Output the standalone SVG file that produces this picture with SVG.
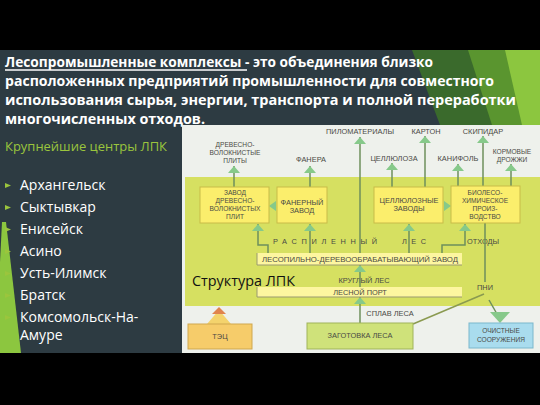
<svg xmlns="http://www.w3.org/2000/svg" width="540" height="405" viewBox="0 0 540 405">
<style>
.t{font-family:"Open Sans","DejaVu Sans",sans-serif;font-weight:bold;font-size:13.9px;fill:#fff}
.city{font-family:"Open Sans","DejaVu Sans",sans-serif;font-size:14px;fill:#fff}
.lb{font-family:"Liberation Sans",Arial,sans-serif;font-size:7.4px;fill:#4a4a44;text-anchor:middle}
.sm{font-size:6.6px}
.bx{fill:#fbee6c;stroke:#c8bb48;stroke-width:1}
.ln{fill:none;stroke:#6e8f5c;stroke-width:1.5}
.hd{fill:#86c98a}
</style>
<defs>
<marker id="ah" viewBox="0 0 7 12" refX="7" refY="6" markerWidth="7" markerHeight="12" markerUnits="userSpaceOnUse" orient="auto">
<path d="M0,0 L7,6 L0,12 z" fill="#86c98a"/>
</marker>
</defs>
<!-- background -->
<rect x="0" y="0" width="540" height="405" fill="#000"/>
<rect x="0" y="50" width="540" height="303" fill="#2d3b42"/>
<polygon points="412,50 540,50 540,125 440,125" fill="#3a6a2c"/>
<polygon points="468,50 540,50 540,125 492,125" fill="#5a952f"/>
<polygon points="505,50 540,50 540,125 522,125" fill="#8cc63f"/>
<polygon points="2,222 6,222 21,353 0,353 0,262" fill="#8cc63f"/>
<!-- title -->
<text class="t" x="5" y="67" textLength="428" lengthAdjust="spacingAndGlyphs">Лесопромышленные комплексы - это объединения близко</text>
<line x1="5" y1="70" x2="247" y2="70" stroke="#fff" stroke-width="1.3"/>
<text class="t" x="5" y="86" textLength="489" lengthAdjust="spacingAndGlyphs">расположенных предприятий промышленности для совместного</text>
<text class="t" x="5" y="105" textLength="511" lengthAdjust="spacingAndGlyphs">использования сырья, энергии, транспорта и полной переработки</text>
<text class="t" x="5" y="124" textLength="200" lengthAdjust="spacingAndGlyphs">многочисленных отходов.</text>
<!-- list -->
<text x="5" y="151" font-family="Open Sans, DejaVu Sans, sans-serif" font-size="13" fill="#9bc53d" textLength="162" lengthAdjust="spacingAndGlyphs">Крупнейшие центры ЛПК</text>
<g fill="#9bc53d">
<polygon points="5,183 11,185.5 5,188"/>
<polygon points="5,205 11,207.5 5,210"/>
<polygon points="5,227 11,229.5 5,232"/>
<polygon points="5,249 11,251.5 5,254"/>
<polygon points="5,271 11,273.5 5,276"/>
<polygon points="5,293 11,295.5 5,298"/>
<polygon points="5,315 11,317.5 5,320"/>
</g>
<text class="city" x="20" y="190">Архангельск</text>
<text class="city" x="20" y="212">Сыктывкар</text>
<text class="city" x="20" y="234">Енисейск</text>
<text class="city" x="20" y="256">Асино</text>
<text class="city" x="20" y="278">Усть-Илимск</text>
<text class="city" x="20" y="300">Братск</text>
<text class="city" x="20" y="322">Комсомольск-На-</text>
<text class="city" x="20" y="340">Амуре</text>
<!-- diagram image area -->
<rect x="182" y="125" width="358" height="228" fill="#eef1ec"/>
<rect x="185" y="177" width="355" height="129" fill="#d6e061"/>
<text x="192" y="286" font-family="Open Sans, DejaVu Sans, sans-serif" font-size="15" fill="#111" textLength="103" lengthAdjust="spacingAndGlyphs">Структура ЛПК</text>
<!-- output labels -->
<g id="labels">
<text class="lb" x="360" y="134">ПИЛОМАТЕРИАЛЫ</text>
<text class="lb" x="426" y="134">КАРТОН</text>
<text class="lb" x="483" y="134">СКИПИДАР</text>
<text class="lb sm" x="235" y="147">ДРЕВЕСНО-</text>
<text class="lb sm" x="235" y="155">ВОЛОКНИСТЫЕ</text>
<text class="lb sm" x="235" y="163">ПЛИТЫ</text>
<text class="lb" x="311" y="162">ФАНЕРА</text>
<text class="lb" x="394" y="161">ЦЕЛЛЮЛОЗА</text>
<text class="lb" x="458" y="161">КАНИФОЛЬ</text>
<text class="lb sm" x="512" y="154">КОРМОВЫЕ</text>
<text class="lb sm" x="512" y="162">ДРОЖЖИ</text>
<text class="lb" x="325" y="244" textLength="104" lengthAdjust="spacing">РАСПИЛЕННЫЙ</text>
<text class="lb" x="414" y="244" textLength="24" lengthAdjust="spacing">ЛЕС</text>
<text class="lb" x="483" y="244">ОТХОДЫ</text>
<text class="lb" x="364" y="283">КРУГЛЫЙ ЛЕС</text>
<text class="lb" x="390" y="316">СПЛАВ ЛЕСА</text>
<text class="lb" x="485" y="290">ПНИ</text>
</g>
<!-- connectors -->
<g id="connectors">
<path class="ln" d="M234,187 V166" marker-end="url(#ah)"/>
<path class="ln" d="M310,187 V166" marker-end="url(#ah)"/>
<path class="ln" d="M392,187 V163" marker-end="url(#ah)"/>
<path class="ln" d="M425,187 V136" marker-end="url(#ah)"/>
<path class="ln" d="M458,186 V164" marker-end="url(#ah)"/>
<path class="ln" d="M483,186 V136" marker-end="url(#ah)"/>
<path class="ln" d="M511,186 V164" marker-end="url(#ah)"/>
<path class="ln" d="M360,253 V137" marker-end="url(#ah)"/>
<path class="ln" d="M268,253 V245 H258 V224" marker-end="url(#ah)"/>
<path class="ln" d="M310,253 V224" marker-end="url(#ah)"/>
<path class="ln" d="M409,253 V224" marker-end="url(#ah)"/>
<path class="ln" d="M442,253 V245 H465 V224" marker-end="url(#ah)"/>
<path class="ln" d="M485,223 V282"/>
<path class="ln" d="M360,287 V265" marker-end="url(#ah)"/>
<path class="ln" d="M360,323 V297" marker-end="url(#ah)"/>
<path d="M484,294 L413,324" fill="none" stroke="#8a9a50" stroke-width="1.5"/>
<path d="M489,300 L497,314" fill="none" stroke="#6e8f5c" stroke-width="1.5"/>
<polygon class="hd" points="490,312 510,312 500,323"/>
<polygon class="hd" points="276,201 276,211 269,206"/>
<polygon class="hd" points="444,201 444,211 451,206"/>
<polygon points="207,324 231,324 219,310" fill="#f4d36c"/>
<polygon points="212,314 226,314 219,307" fill="#e0844e"/>
</g>
<!-- nodes -->
<g id="dvp">
<rect class="bx" x="200" y="187" width="69" height="36"/>
<text class="lb sm" x="235" y="195">ЗАВОД</text>
<text class="lb sm" x="235" y="203">ДРЕВЕСНО-</text>
<text class="lb sm" x="235" y="211">ВОЛОКНИСТЫХ</text>
<text class="lb sm" x="235" y="219">ПЛИТ</text>
</g>
<g id="fanera">
<rect class="bx" x="277" y="187" width="50" height="36"/>
<text class="lb" x="302" y="205">ФАНЕРНЫЙ</text>
<text class="lb" x="302" y="213">ЗАВОД</text>
</g>
<g id="cellulose">
<rect class="bx" x="374" y="187" width="69" height="36"/>
<text class="lb" x="409" y="203">ЦЕЛЛЮЛОЗНЫЕ</text>
<text class="lb" x="409" y="211">ЗАВОДЫ</text>
</g>
<g id="biochem">
<rect class="bx" x="451" y="186" width="69" height="37"/>
<text class="lb sm" x="485" y="195">БИОЛЕСО-</text>
<text class="lb sm" x="485" y="203">ХИМИЧЕСКОЕ</text>
<text class="lb sm" x="485" y="211">ПРОИЗ-</text>
<text class="lb sm" x="485" y="219">ВОДСТВО</text>
</g>
<g id="lesopilny">
<rect x="257" y="253" width="205" height="12" fill="#fdf6a0"/>
<path d="M257,253 V265 H462" fill="none" stroke="#9a9a70" stroke-width="1"/>
<text class="lb" x="360" y="262" textLength="196" lengthAdjust="spacingAndGlyphs">ЛЕСОПИЛЬНО-ДЕРЕВООБРАБАТЫВАЮЩИЙ ЗАВОД</text>
</g>
<g id="port">
<rect x="257" y="287" width="205" height="10" fill="#fdf6a0"/>
<path d="M257,287 V297 H462" fill="none" stroke="#9a9a70" stroke-width="1"/>
<text class="lb" x="360" y="295">ЛЕСНОЙ ПОРТ</text>
</g>
<g id="zagotovka">
<rect x="307" y="323" width="106" height="26" fill="#cfe27a" stroke="#9fb45a" stroke-width="1"/>
<text class="lb" x="360" y="338">ЗАГОТОВКА ЛЕСА</text>
</g>
<g id="tec">
<rect x="188" y="324" width="64" height="25" fill="#f6cc6a" stroke="#cfa84e" stroke-width="1"/>
<text class="lb" x="220" y="339">ТЭЦ</text>
</g>
<g id="ochistnye">
<rect x="469" y="323" width="64" height="25" fill="#a9dcee" stroke="#7ab8cc" stroke-width="1"/>
<text class="lb sm" x="501" y="333" fill="#334">ОЧИСТНЫЕ</text>
<text class="lb sm" x="501" y="342" fill="#334">СООРУЖЕНИЯ</text>
</g>
</svg>
